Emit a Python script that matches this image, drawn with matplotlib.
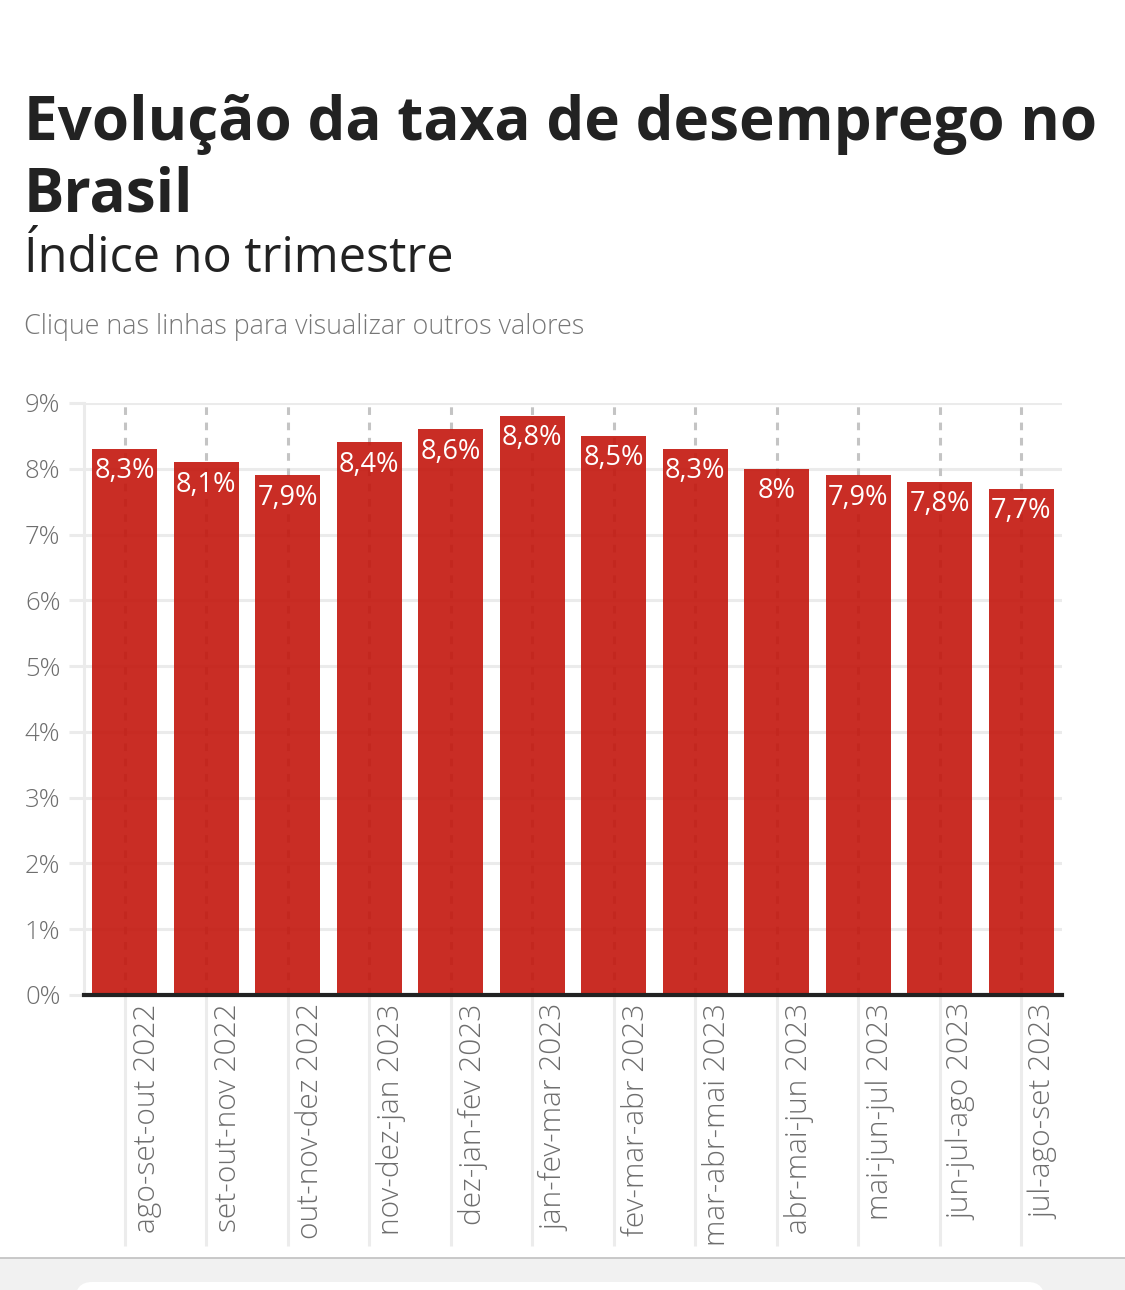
import matplotlib
matplotlib.use("Agg")
import matplotlib.pyplot as plt
from matplotlib.patches import FancyBboxPatch, Rectangle
from matplotlib.transforms import ScaledTranslation

plt.rcParams['font.family'] = ['Open Sans', 'DejaVu Sans']

# data
periodos = ["ago-set-out 2022", "set-out-nov 2022", "out-nov-dez 2022",
            "nov-dez-jan 2023", "dez-jan-fev 2023", "jan-fev-mar 2023",
            "fev-mar-abr 2023", "mar-abr-mai 2023", "abr-mai-jun 2023",
            "mai-jun-jul 2023", "jun-jul-ago 2023", "jul-ago-set 2023"]
taxa = [8.3, 8.1, 7.9, 8.4, 8.6, 8.8, 8.5, 8.3, 8.0, 7.9, 7.8, 7.7]
rotulos = ["8,3%", "8,1%", "7,9%", "8,4%", "8,6%", "8,8%",
           "8,5%", "8,3%", "8%", "7,9%", "7,8%", "7,7%"]
y_ticks = list(range(0, 10))

W, H = 1125, 1290
fig = plt.figure(figsize=(W / 100, H / 100), dpi=100)
fig.patch.set_facecolor("white")

ax = fig.add_axes([84 / W, 1 - 995 / H, (1062 - 84) / W, (995 - 403) / H])
x = list(range(len(taxa)))

# dashed guides behind the bars
for xi in x:
    ax.axvline(xi, color="#c4c4c4", lw=2.2, ls=(0, (2.5, 2.5)), zorder=1)

bars = ax.bar(x, taxa, width=0.8, color="#c3160d", alpha=0.9, zorder=2)

for b, lab in zip(bars, rotulos):
    ax.annotate(lab, (b.get_x() + b.get_width() / 2, b.get_height()),
                xytext=(0, -6), textcoords="offset points",
                ha="center", va="top", color="white", fontsize=19.5, zorder=3)

ax.set_xlim(-0.5, 11.5)
ax.set_ylim(0, 9)
ax.set_yticks(y_ticks)
ax.set_yticklabels([f"{v}%" for v in y_ticks])
ax.yaxis.grid(True, color="#ebebeb", lw=2.2, zorder=0)
ax.set_axisbelow(True)
ax.tick_params(axis="y", length=11, width=2.2, color="#ebebeb", pad=6,
               labelsize=18.5, labelcolor="#6e6e6e")
for t in ax.get_yticklabels():
    t.set_fontweight("light")

ax.set_xticks(x)
ax.set_xticklabels(periodos, rotation=90, ha="center", va="top")
ax.tick_params(axis="x", length=0, pad=6, labelsize=21.5, labelcolor="#6e6e6e")
for t in ax.get_xticklabels():
    t.set_fontweight("light")
    t.set_transform(t.get_transform() + ScaledTranslation(0.22, 0, fig.dpi_scale_trans))

# light solid guides under the axis
ax.vlines(x, -0.424 * 9, 0, transform=ax.transData, color="#ececec",
          lw=2.2, clip_on=False, zorder=0)

for s in ["top", "right"]:
    ax.spines[s].set_visible(False)
ax.spines["left"].set_color("#ebebeb")
ax.spines["left"].set_linewidth(2.2)
ax.spines["bottom"].set_color("#222222")
ax.spines["bottom"].set_linewidth(3)
ax.spines["bottom"].set_zorder(4)

# titles
fig.text(24 / W, 1 - 140 / H, "Evolução da taxa de desemprego no", fontsize=43.3,
         fontweight="bold", color="#222222", va="baseline")
fig.text(24 / W, 1 - 211 / H, "Brasil", fontsize=43.3, fontweight="bold",
         color="#222222", va="baseline")
fig.text(24 / W, 1 - 272 / H, "Índice no trimestre", fontsize=35,
         color="#222222", va="baseline")
fig.text(24 / W, 1 - 334 / H, "Clique nas linhas para visualizar outros valores",
         fontsize=19.4, fontweight="light", color="#777777", va="baseline")

# bottom page chrome
fig.add_artist(Rectangle((0, 0), 1, (H - 1258) / H, transform=fig.transFigure,
                         facecolor="#f1f1f1", edgecolor="none", zorder=0))
fig.add_artist(plt.Line2D([0, 1], [1 - 1258 / H] * 2, transform=fig.transFigure,
                          color="#c0c0c0", lw=1.2))
fig.add_artist(FancyBboxPatch((75 / W, -0.02), (1045 - 75) / W, (1290 - 1282) / H + 0.02,
                              boxstyle="round,pad=0,rounding_size=0.015",
                              transform=fig.transFigure, facecolor="white",
                              edgecolor="none", zorder=1))

fig.savefig("out.png", dpi=100)
